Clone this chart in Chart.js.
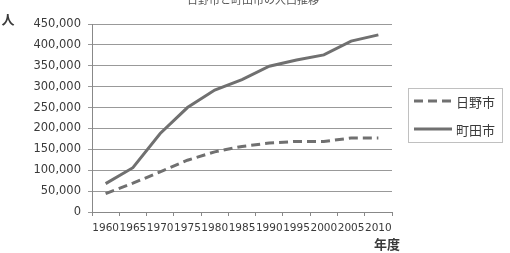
<!DOCTYPE html>
<html>
<head>
<meta charset="utf-8">
<script src="https://cdn.jsdelivr.net/npm/chart.js@4"></script>
<style>
  body { margin: 0; background: #fff; }
</style>
</head>
<body>
<canvas id="popChart" width="510" height="253"></canvas>
<script>
// ===== data =====
// 年度
const years = ['1960', '1965', '1970', '1975', '1980', '1985', '1990', '1995', '2000', '2005', '2010'];

// 日野市 人口
const hinoPop = [44000, 69000, 96000, 124000, 144000, 157000, 165000, 169000, 169000, 177000, 177000];

// 町田市 人口
const machidaPop = [68000, 106000, 188000, 250000, 292000, 317000, 349000, 364000, 376000, 409000, 424000];

const seriesNames = ['日野市', '町田市'];
const chartTitle = '日野市と町田市の人口推移';
const yTitle = '人';
const xTitle = '年度';

const lineGray = '#707070';
const textGray = '#3a3a3a';

// 凡例・軸タイトルを直接描く
const extraDraw = {
  id: 'extraDraw',
  afterDraw(chart) {
    const ctx = chart.ctx;
    ctx.save();
    // タイトル(上端で切れている)
    ctx.fillStyle = '#555';
    ctx.font = '11px "Noto Sans CJK JP"';
    ctx.textAlign = 'center';
    ctx.textBaseline = 'bottom';
    ctx.fillText(chartTitle, 253, 5);

    // 軸タイトル
    ctx.fillStyle = textGray;
    ctx.font = 'bold 13px "Noto Sans CJK JP"';
    ctx.textBaseline = 'middle';
    ctx.fillText(yTitle, 8, 19);
    ctx.fillText(xTitle, 387, 244);

    // 凡例枠
    ctx.strokeStyle = '#c0c0c0';
    ctx.lineWidth = 1;
    ctx.strokeRect(408.5, 88.5, 94, 54);

    const rows = [101, 129];
    chart.data.datasets.forEach((ds, i) => {
      const y = rows[i];
      ctx.strokeStyle = ds.borderColor;
      ctx.lineWidth = ds.borderWidth;
      ctx.setLineDash(ds.borderDash || []);
      ctx.beginPath();
      ctx.moveTo(414, y);
      ctx.lineTo(452, y);
      ctx.stroke();
      ctx.setLineDash([]);
      ctx.fillStyle = textGray;
      ctx.font = '13px "Noto Sans CJK JP"';
      ctx.textAlign = 'left';
      ctx.fillText(ds.label, 456, y + 1);
    });
    ctx.restore();
  }
};

new Chart(document.getElementById('popChart'), {
  type: 'line',
  data: {
    labels: years,
    datasets: [
      {
        label: seriesNames[0],
        data: hinoPop,
        borderColor: lineGray,
        borderWidth: 3,
        borderDash: [9, 5],
        pointRadius: 0,
        tension: 0
      },
      {
        label: seriesNames[1],
        data: machidaPop,
        borderColor: lineGray,
        borderWidth: 3,
        pointRadius: 0,
        tension: 0
      }
    ]
  },
  options: {
    responsive: false,
    animation: false,
    layout: { padding: { left: 0, right: 118, top: 24, bottom: 0 } },
    plugins: {
      legend: { display: false },
      tooltip: { enabled: false }
    },
    scales: {
      x: {
        offset: true,
        grid: {
          offset: true,
          drawOnChartArea: false,
          drawTicks: true,
          tickLength: 4,
          color: '#888'
        },
        border: { color: '#888' },
        ticks: {
          autoSkip: false,
          maxRotation: 0,
          padding: 6,
          color: textGray,
          font: { family: 'DejaVu Sans', size: 10.5 }
        },
        afterFit(scale) { scale.height = 41; }
      },
      y: {
        min: 0,
        max: 450000,
        grid: {
          color: '#999',
          tickLength: 4,
          drawTicks: true
        },
        border: { color: '#888' },
        ticks: {
          stepSize: 50000,
          padding: 7,
          color: textGray,
          font: { family: 'DejaVu Sans', size: 11.5 },
          callback: v => v.toLocaleString('en-US')
        },
        afterFit(scale) { scale.width = 92; }
      }
    }
  },
  plugins: [extraDraw]
});
</script>
</body>
</html>
